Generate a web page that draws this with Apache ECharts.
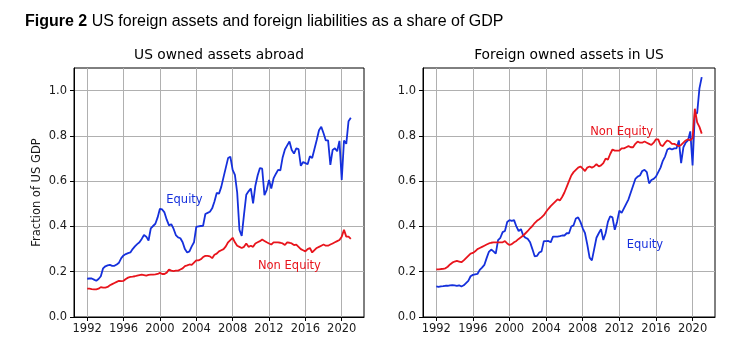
<!DOCTYPE html>
<html>
<head>
<meta charset="utf-8">
<title>US foreign assets and foreign liabilities</title>
<script src="https://cdn.jsdelivr.net/npm/echarts@6/dist/echarts.min.js"></script>
<style>
  html, body { margin: 0; padding: 0; background: #fff; }
  #chart { width: 745px; height: 351px; }
</style>
</head>
<body>
<div id="chart"></div>
<script>
// Quarterly shares of US GDP, 1992Q1 .. 2021Q1
const START_YEAR = 1992;

const abroadEquity = [
  0.169, 0.170, 0.170, 0.165,  0.160, 0.168, 0.180, 0.215,  0.224, 0.228, 0.230, 0.226,
  0.226, 0.232, 0.240, 0.260,  0.272, 0.278, 0.282, 0.285,  0.300, 0.312, 0.322, 0.330,
  0.345, 0.362, 0.355, 0.338,  0.392, 0.402, 0.412, 0.440,  0.478, 0.475, 0.462, 0.430,
  0.405, 0.410, 0.390, 0.362,  0.352, 0.348, 0.330, 0.300,  0.285, 0.290, 0.312, 0.330,
  0.398, 0.400, 0.402, 0.403,  0.455, 0.460, 0.465, 0.480,  0.510, 0.548, 0.545, 0.575,
  0.618, 0.660, 0.702, 0.708,  0.650, 0.628, 0.550, 0.385,  0.358, 0.452, 0.540, 0.555,
  0.568, 0.502, 0.580, 0.625,  0.658, 0.655, 0.538, 0.562,  0.605, 0.568, 0.612, 0.632,
  0.650, 0.648, 0.705, 0.740,  0.758, 0.775, 0.738, 0.722,  0.745, 0.742, 0.668, 0.685,
  0.680, 0.675, 0.710, 0.702,  0.742, 0.782, 0.825, 0.840,  0.812, 0.780, 0.780, 0.672,
  0.738, 0.745, 0.732, 0.778,  0.605, 0.780, 0.765, 0.865,  0.880
];

const abroadNonEquity = [
  0.125, 0.125, 0.123, 0.122,  0.122, 0.125, 0.132, 0.130,  0.130, 0.133, 0.140, 0.145,
  0.150, 0.155, 0.160, 0.158,  0.160, 0.168, 0.174, 0.177,  0.178, 0.180, 0.183, 0.185,
  0.187, 0.185, 0.183, 0.186,  0.187, 0.187, 0.188, 0.190,  0.195, 0.190, 0.190, 0.196,
  0.210, 0.205, 0.203, 0.205,  0.205, 0.210, 0.215, 0.225,  0.228, 0.232, 0.230, 0.240,
  0.250, 0.250, 0.255, 0.265,  0.270, 0.270, 0.268, 0.260,  0.275, 0.280, 0.290, 0.295,
  0.300, 0.312, 0.330, 0.340,  0.350, 0.330, 0.315, 0.310,  0.305, 0.310, 0.325, 0.310,
  0.315, 0.310, 0.325, 0.330,  0.335, 0.342, 0.336, 0.330,  0.325, 0.320, 0.330, 0.330,
  0.330, 0.328, 0.325, 0.318,  0.330, 0.328, 0.325, 0.318,  0.320, 0.310, 0.300, 0.295,
  0.290, 0.300, 0.305, 0.285,  0.295, 0.305, 0.310, 0.315,  0.320, 0.315, 0.315, 0.320,
  0.325, 0.330, 0.335, 0.340,  0.355, 0.385, 0.355, 0.355,  0.345
];

const inUsEquity = [
  0.135, 0.133, 0.135, 0.136,  0.138, 0.138, 0.140, 0.141,  0.140, 0.138, 0.140, 0.135,
  0.140, 0.150, 0.160, 0.180,  0.186, 0.188, 0.190, 0.208,  0.218, 0.230, 0.260, 0.288,
  0.298, 0.290, 0.280, 0.340,  0.350, 0.375, 0.380, 0.420,  0.428, 0.425, 0.428, 0.400,
  0.380, 0.388, 0.360, 0.350,  0.345, 0.330, 0.300, 0.268,  0.270, 0.285, 0.290, 0.335,
  0.335, 0.336, 0.330, 0.355,  0.355, 0.355, 0.357, 0.360,  0.360, 0.370, 0.370, 0.400,
  0.405, 0.435, 0.440, 0.420,  0.392, 0.370, 0.320, 0.262,  0.250, 0.300, 0.350, 0.370,
  0.388, 0.340, 0.370, 0.420,  0.445, 0.440, 0.385, 0.420,  0.470, 0.460, 0.480, 0.500,
  0.520, 0.550, 0.580, 0.610,  0.620, 0.625, 0.645, 0.650,  0.640, 0.590, 0.605, 0.610,
  0.620, 0.640, 0.660, 0.690,  0.710, 0.740, 0.745, 0.740,  0.745, 0.745, 0.780, 0.680,
  0.750, 0.770, 0.780, 0.820,  0.670, 0.900, 0.900, 1.010,  1.060
];

const inUsNonEquity = [
  0.210, 0.210, 0.212, 0.213,  0.215, 0.222, 0.232, 0.240,  0.245, 0.248, 0.245, 0.242,
  0.250, 0.260, 0.270, 0.280,  0.283, 0.290, 0.300, 0.305,  0.310, 0.315, 0.320, 0.325,
  0.328, 0.330, 0.330, 0.330,  0.330, 0.330, 0.335, 0.325,  0.318, 0.322, 0.330, 0.336,
  0.345, 0.352, 0.360, 0.370,  0.380, 0.392, 0.402, 0.415,  0.425, 0.432, 0.440, 0.450,
  0.465, 0.478, 0.490, 0.500,  0.510, 0.520, 0.515, 0.530,  0.550, 0.575, 0.600, 0.625,
  0.640, 0.650, 0.660, 0.665,  0.655, 0.645, 0.660, 0.665,  0.660, 0.665, 0.675, 0.665,
  0.670, 0.680, 0.700, 0.695,  0.720, 0.740, 0.735, 0.735,  0.735, 0.745, 0.745, 0.750,
  0.755, 0.750, 0.750, 0.765,  0.775, 0.770, 0.770, 0.775,  0.770, 0.765, 0.760, 0.770,
  0.785, 0.785, 0.760, 0.755,  0.770, 0.780, 0.775, 0.765,  0.765, 0.760, 0.755, 0.760,
  0.770, 0.780, 0.785, 0.780,  0.790, 0.920, 0.860, 0.840,  0.810
];

const yearTicks = [1992, 1996, 2000, 2004, 2008, 2012, 2016, 2020];
const shareTicks = [0, 0.2, 0.4, 0.6, 0.8, 1.0];

const BLUE = "#1530dc";
const RED = "#e8141c";
const FONT = "DejaVu Sans";
const X_MIN = 1990.55; // matplotlib-style 5% margins around 1992..2021
const X_MAX = 2022.45;

// pair each value with its quarter
function toPoints(values) {
  return values.map((v, i) => [START_YEAR + i / 4, v]);
}

function note(text, x, y, color) {
  return {
    coord: [x, y],
    symbol: "rect",
    symbolSize: 1,
    itemStyle: { color: "rgba(0,0,0,0)" },
    label: {
      show: true,
      position: "inside",
      formatter: text,
      color: color,
      fontSize: 11.5,
      fontFamily: FONT,
    },
  };
}

function xAxisFor(gridIndex) {
  return {
    type: "value",
    gridIndex,
    min: X_MIN,
    max: X_MAX,
    axisLine: { show: true, lineStyle: { color: "#000", width: 1 } },
    axisTick: { show: true, length: 4, customValues: yearTicks, lineStyle: { color: "#000" } },
    axisLabel: {
      customValues: yearTicks,
      color: "#1a1a1a",
      fontSize: 11.5,
      fontFamily: FONT,
      margin: 6,
      formatter: (v) => String(Math.round(v)),
    },
    splitLine: { show: true, lineStyle: { color: "#b0b0b0", width: 1 } },
  };
}

function yAxisFor(gridIndex, name) {
  return {
    type: "value",
    gridIndex,
    min: 0,
    max: 1.1,
    name: name || "",
    nameLocation: "middle",
    nameGap: 31,
    nameTextStyle: { color: "#1a1a1a", fontSize: 11.5, fontFamily: FONT },
    axisLine: { show: true, lineStyle: { color: "#000", width: 1 } },
    axisTick: { show: true, length: 4, customValues: shareTicks, lineStyle: { color: "#000" } },
    axisLabel: {
      customValues: shareTicks,
      color: "#1a1a1a",
      fontSize: 11.5,
      fontFamily: FONT,
      margin: 7,
      formatter: (v) => Number(v).toFixed(1),
    },
    splitLine: { show: true, lineStyle: { color: "#b0b0b0", width: 1 } },
  };
}

function lineSeries(idx, values, color, label) {
  return {
    type: "line",
    xAxisIndex: idx,
    yAxisIndex: idx,
    data: toPoints(values),
    symbol: "none",
    lineStyle: { color, width: 1.8 },
    itemStyle: { color },
    markPoint: { silent: true, animation: false, data: [label] },
  };
}

const chart = echarts.init(document.getElementById("chart"), null, { renderer: "canvas" });

const titleStyle = { fontFamily: FONT, fontSize: 13.8, fontWeight: "normal", color: "#000" };

chart.setOption({
  animation: false,
  backgroundColor: "#fff",
  title: [
    {
      text: "{b|Figure 2} US foreign assets and foreign liabilities as a share of GDP",
      left: 25,
      top: 13,
      padding: 0,
      textStyle: {
        fontFamily: "Liberation Sans",
        fontSize: 16,
        fontWeight: "normal",
        color: "#000",
        lineHeight: 18,
        rich: { b: { fontFamily: "Liberation Sans", fontSize: 16, fontWeight: "bold", color: "#000", lineHeight: 18 } },
      },
    },
    { text: "US owned assets abroad", left: 219, top: 55, padding: 0, textAlign: "center", textVerticalAlign: "middle", textStyle: titleStyle },
    { text: "Foreign owned assets in US", left: 569, top: 55, padding: 0, textAlign: "center", textVerticalAlign: "middle", textStyle: titleStyle },
  ],
  grid: [
    { left: 74, top: 68, width: 290, height: 249, show: true, borderColor: "#000", borderWidth: 1, backgroundColor: "#fff" },
    { left: 423, top: 68, width: 292, height: 249, show: true, borderColor: "#000", borderWidth: 1, backgroundColor: "#fff" },
  ],
  xAxis: [xAxisFor(0), xAxisFor(1)],
  yAxis: [yAxisFor(0, "Fraction of US GDP"), yAxisFor(1)],
  series: [
    lineSeries(0, abroadEquity, BLUE, note("Equity", 2002.7, 0.515, BLUE)),
    lineSeries(0, abroadNonEquity, RED, note("Non Equity", 2014.25, 0.224, RED)),
    lineSeries(1, inUsEquity, BLUE, note("Equity", 2014.8, 0.316, BLUE)),
    lineSeries(1, inUsNonEquity, RED, note("Non Equity", 2012.25, 0.819, RED)),
  ],
});
</script>
</body>
</html>
